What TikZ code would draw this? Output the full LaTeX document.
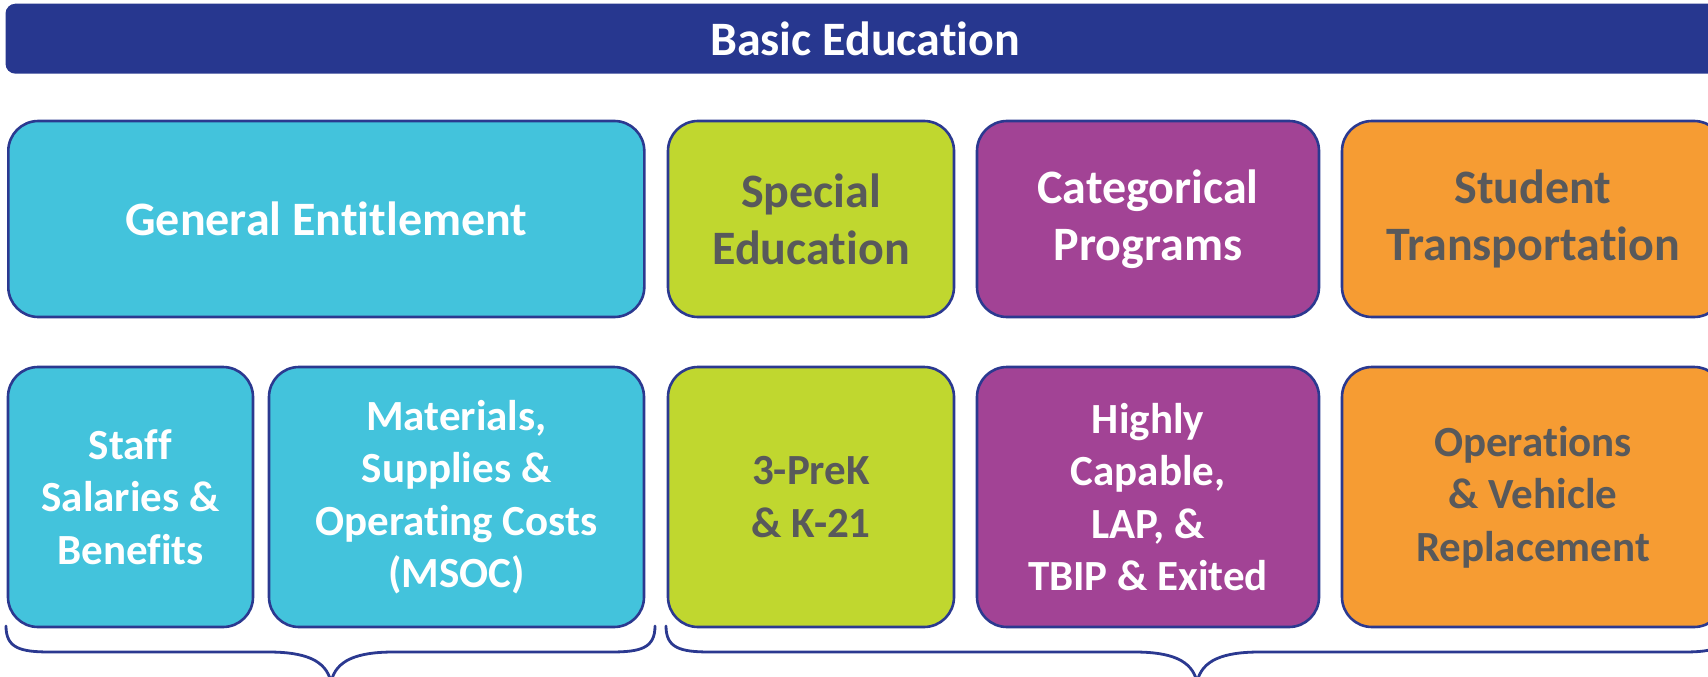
\documentclass[tikz,border=0pt]{standalone}
\usepackage{fontspec}
\setmainfont[RawFeature={-liga;-clig;-dlig;-calt}]{Carlito}
\definecolor{navy}{HTML}{27378F}
\definecolor{edge}{HTML}{2B3990}
\definecolor{skyfill}{HTML}{43C3DC}
\definecolor{limefill}{HTML}{C0D72F}
\definecolor{plumfill}{HTML}{A24395}
\definecolor{amberfill}{HTML}{F69C33}
\definecolor{inkgray}{HTML}{58595B}

\begin{document}
\begin{tikzpicture}[x=1pt,y=-1pt,
  cell/.style={draw=edge, line width=2.6pt, rounded corners=30pt, align=center,
    inner sep=0pt, outer sep=0pt},
  bigtext/.style={font=\bfseries\fontsize{48}{57}\selectfont},
  smalltext/.style={font=\bfseries\fontsize{43}{52.5}\selectfont},
  toprow/.style={cell, bigtext, minimum height=196pt},
  lowrow/.style={cell, smalltext, minimum height=260pt},
  brace/.style={draw=edge, line width=2.8pt, line cap=round, line join=round}]

\useasboundingbox (0,0) rectangle (1708,677);
\clip (0,0) rectangle (1708,677);

% heading bar
\node[fill=navy, rounded corners=10pt, minimum width=1719pt, minimum height=70pt,
  inner sep=0pt, text=white, bigtext] (head) at (865,38.7) {Basic Education};

% category row
\node[toprow, fill=skyfill, text=white, minimum width=636pt] (ge) at (326.3,219) {General Entitlement};
\node[toprow, fill=limefill, text=inkgray, minimum width=286pt] (se) at (811,219) {Special\\Education};
\node[toprow, fill=plumfill, text=white, minimum width=342pt] (cp) at (1148,219) {Categorical\\Programs};
\node[toprow, fill=amberfill, text=inkgray, minimum width=382pt] (st) at (1533,219) {Student\\Transportation};

% component row
\node[lowrow, fill=skyfill, text=white, minimum width=245pt] (staff) at (130.5,497) {Staff\\Salaries \&\\Benefits};
\node[lowrow, fill=skyfill, text=white, minimum width=375pt] (msoc) at (456.5,497) {Materials,\\Supplies \&\\Operating Costs\\(MSOC)};
\node[lowrow, fill=limefill, text=inkgray, minimum width=286pt] (prek) at (811,497) {3-PreK\\\& K-21};
\node[lowrow, fill=plumfill, text=white, minimum width=342pt] (hc) at (1148,497) {Highly\\Capable,\\LAP, \&\\TBIP \& Exited};
\node[lowrow, fill=amberfill, text=inkgray, minimum width=382pt] (ops) at (1533,497) {Operations\\\& Vehicle\\Replacement};

% braces under the groups
\coordinate (lb0) at (6,626);
\coordinate (lb1) at (655,626);
\coordinate (ltip) at (331,682);
\coordinate (rb0) at (666,626);
\coordinate (rb1) at (1728,626);
\coordinate (rtip) at (1197,682);

\draw[brace] (lb0) .. controls (6,648) and (20,652) .. (50,652)
  -- (268,652) .. controls (305,652) and (326,660) .. (ltip)
  .. controls (336,660) and (357,652) .. (394,652)
  -- (611,652) .. controls (641,652) and (655,648) .. (lb1);

\draw[brace] (rb0) .. controls (666,648) and (680,652) .. (710,652)
  -- (1134,652) .. controls (1171,652) and (1192,660) .. (rtip)
  .. controls (1202,660) and (1223,652) .. (1260,652)
  -- (1684,652) .. controls (1714,652) and (1728,648) .. (rb1);

\end{tikzpicture}
\end{document}
